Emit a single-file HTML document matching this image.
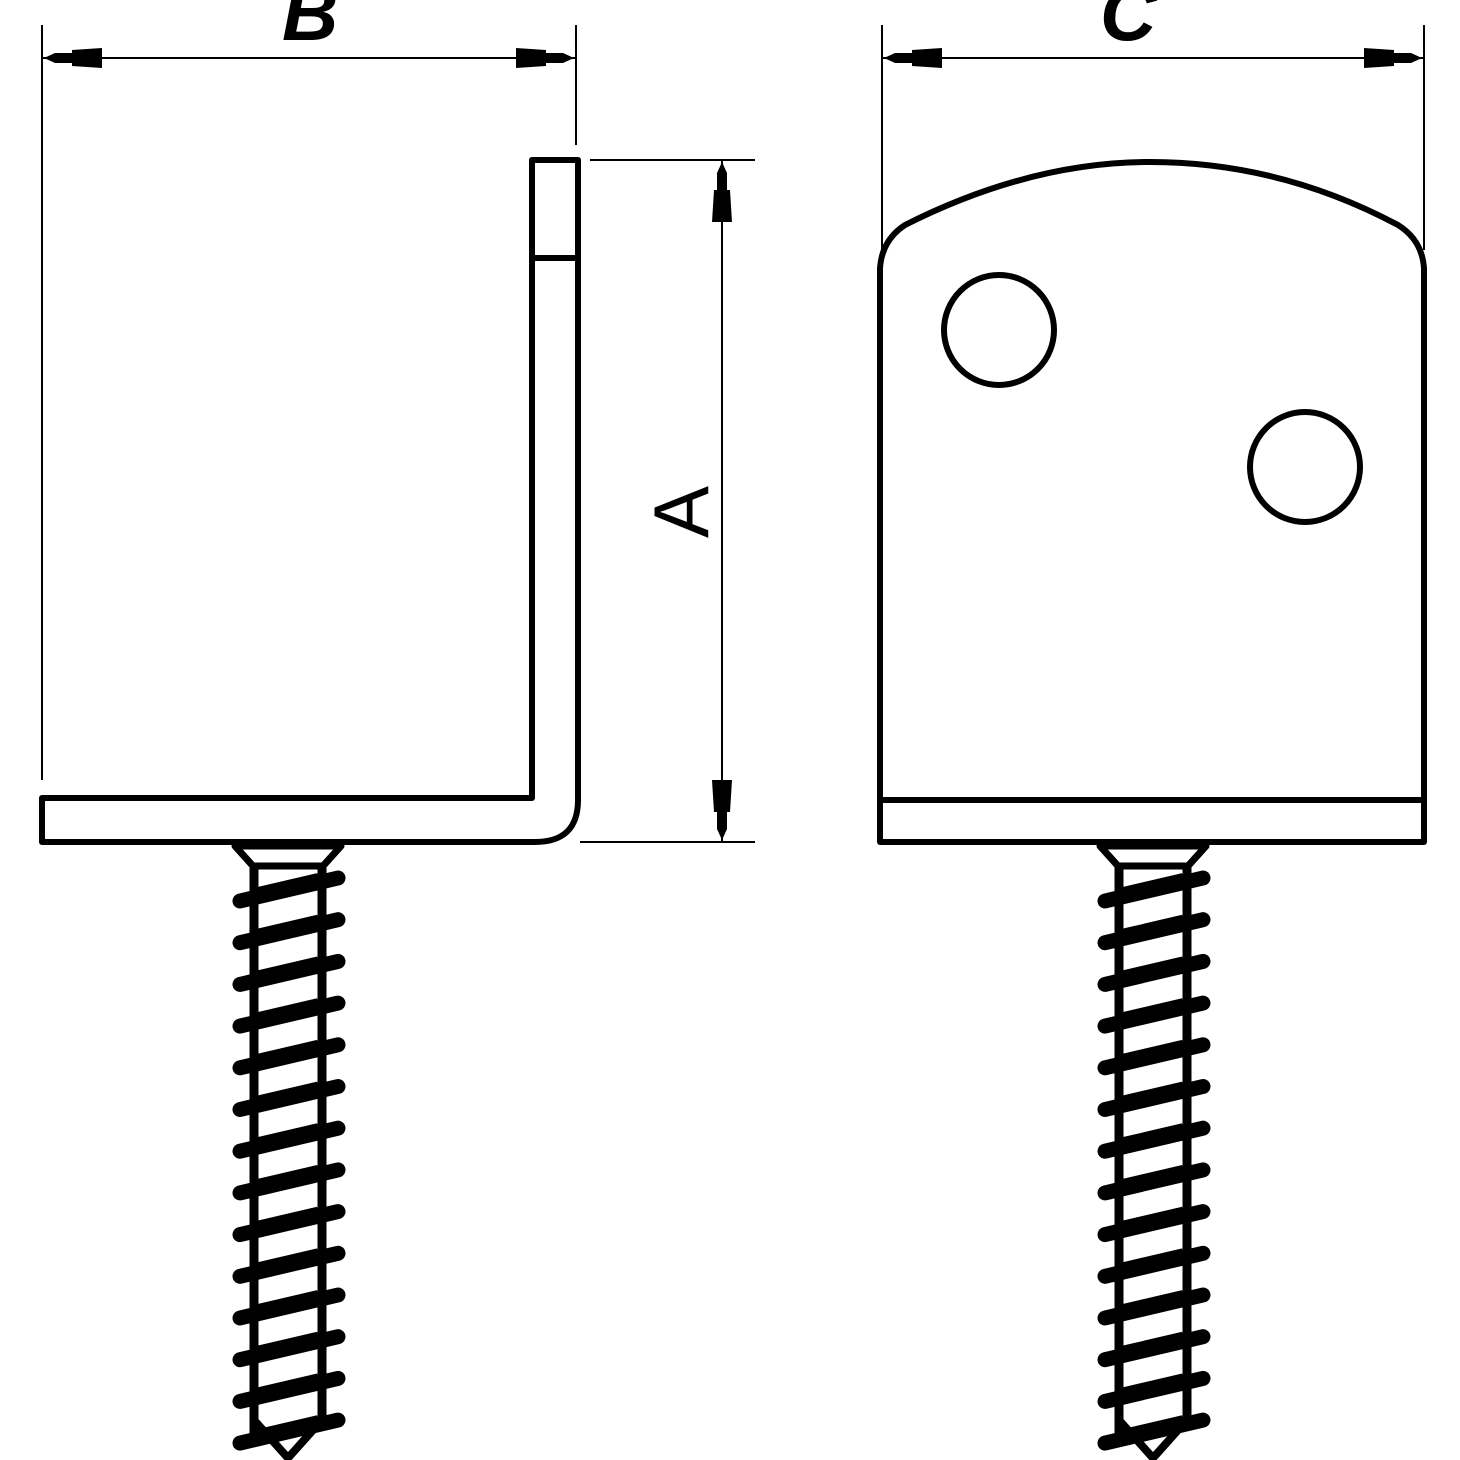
<!DOCTYPE html>
<html><head><style>html,body{margin:0;padding:0;background:#fff}svg{display:block}</style></head>
<body>
<svg id="s" width="1460" height="1460" viewBox="0 0 1460 1460" xmlns="http://www.w3.org/2000/svg">
<g fill="none" stroke="#000">
<line x1="42" y1="25" x2="42" y2="780" stroke-width="2"/>
<line x1="576" y1="25" x2="576" y2="145" stroke-width="2"/>
<line x1="42" y1="58" x2="576" y2="58" stroke-width="2"/>
<line x1="590" y1="160" x2="755" y2="160" stroke-width="2"/>
<line x1="580" y1="842" x2="755" y2="842" stroke-width="2"/>
<line x1="722" y1="160" x2="722" y2="842" stroke-width="2"/>
<path d="M532 160 H578 V800 Q578 842 535 842 H42 V798 H532 Z" stroke-width="6" stroke-linejoin="round"/>
<line x1="532" y1="258" x2="578" y2="258" stroke-width="6"/>
<line x1="882" y1="25" x2="882" y2="250" stroke-width="2"/>
<line x1="1424" y1="25" x2="1424" y2="250" stroke-width="2"/>
<line x1="882" y1="58" x2="1424" y2="58" stroke-width="2"/>
<path d="M880 842 V268 Q882 240 905 225 Q1030 162 1150 162 Q1280 162 1398 225 Q1422 240 1424 268 V842 Z" stroke-width="6" stroke-linejoin="round"/>
<line x1="880" y1="800" x2="1424" y2="800" stroke-width="6"/>
<circle cx="999" cy="330" r="55" stroke-width="6"/>
<circle cx="1305" cy="467" r="55" stroke-width="6"/>
</g>
<g fill="#000">
<polygon points="44,58 55,53 72,53 72,50 102,48 102,68 72,66 72,63 55,63"/>
<polygon points="574,58 563,53 546,53 546,50 516,48 516,68 546,66 546,63 563,63"/>
<polygon points="884,58 895,53 912,53 912,50 942,48 942,68 912,66 912,63 895,63"/>
<polygon points="1422,58 1411,53 1394,53 1394,50 1364,48 1364,68 1394,66 1394,63 1411,63"/>
<polygon points="722,162 717,173 717,190 714,190 712,222 732,222 730,190 727,190 727,173"/>
<polygon points="722,840 717,829 717,812 714,812 712,780 732,780 730,812 727,812 727,829"/>
</g>
<g font-family="Liberation Sans, sans-serif" font-weight="bold" font-style="italic" font-size="78">
<text x="282" y="40">B</text>
<text x="1100" y="40">C</text>
</g>
<text x="0" y="0" font-family="Liberation Sans, sans-serif" font-size="78" transform="translate(708,538) rotate(-90)">A</text>
<g id="screws"></g>
</svg>
<script>
var g=document.getElementById('screws'),h='';
[288,1153].forEach(function(c){
 h+='<path d="M'+(c-53)+' 846 L'+(c+53)+' 846 L'+(c+35)+' 866 L'+(c-35)+' 866 Z" fill="none" stroke="#000" stroke-width="7" stroke-linejoin="round"/>';
 h+='<line x1="'+(c-34)+'" y1="866" x2="'+(c-34)+'" y2="1440" stroke="#000" stroke-width="9"/>';
 h+='<line x1="'+(c+34)+'" y1="866" x2="'+(c+34)+'" y2="1420" stroke="#000" stroke-width="9"/>';
 h+='<path d="M'+(c-34)+' 1420 L'+c+' 1458 L'+(c+34)+' 1420" fill="none" stroke="#000" stroke-width="8"/>';
 for(var i=0;i<14;i++){var y=878+i*41.7;
  h+='<line x1="'+(c-48)+'" y1="'+(y+23)+'" x2="'+(c+50)+'" y2="'+y+'" stroke="#000" stroke-width="15" stroke-linecap="round"/>';
  h+='<line x1="'+(c-30)+'" y1="'+(y+13)+'" x2="'+(c+30)+'" y2="'+(y-1)+'" stroke="#000" stroke-width="8"/>';
 }
});
g.innerHTML=h;
</script>
</body></html>
